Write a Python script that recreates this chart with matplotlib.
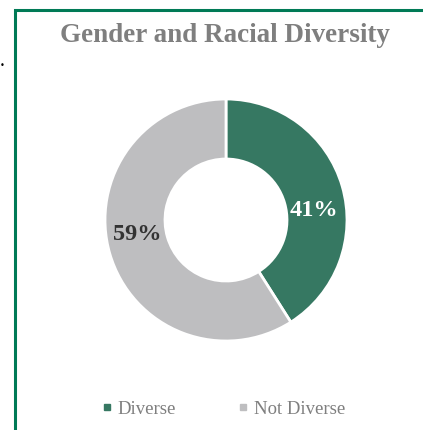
import matplotlib.pyplot as plt
from matplotlib.patches import Rectangle
from matplotlib.lines import Line2D

# data
labels = ["Diverse", "Not Diverse"]
values = [41, 59]
colors = ["#367862", "#BEBEC0"]
pct_colors = ["white", "#333333"]

SERIF = ["Liberation Serif", "DejaVu Serif"]

fig = plt.figure(figsize=(4.23, 4.30), dpi=100)

# green frame around the chart
fig.patches.append(Rectangle((14.5 / 423, -0.05), 1.0, 1 - 10.5 / 430 + 0.05,
                             transform=fig.transFigure, fill=False,
                             edgecolor="#007A56", linewidth=2.2))
fig.text(2.5 / 423, 1 - 66 / 430, "\u2022", fontsize=6, color="black",
         ha="center", va="center")

fig.text(225 / 423, 1 - 35 / 430, "Gender and Racial Diversity",
         fontsize=19.5, fontweight="bold", color="#7F7F7F",
         family=SERIF, ha="center", va="center")

# donut
ax = fig.add_axes([(226 - 125) / 423, 1 - (220 + 125) / 430, 250 / 423, 250 / 430])
wedges, _ = ax.pie(values, colors=colors, startangle=90, counterclock=False,
                   radius=121 / 125,
                   wedgeprops=dict(width=60 / 125, edgecolor="white", linewidth=2))
ax.set_xlim(-1, 1)
ax.set_ylim(-1, 1)
ax.set_aspect("equal")

pos = [(314, 211), (137, 234)]
for (px, py), v, c in zip(pos, values, pct_colors):
    fig.text(px / 423, 1 - py / 430, f"{v}%", fontsize=17.5, fontweight="bold",
             color=c, family=SERIF, ha="center", va="center")

# legend
handles = [Line2D([], [], marker="s", linestyle="", markersize=4,
                  markerfacecolor=c, markeredgecolor=c) for c in colors]
fig.legend(handles, labels, loc="center", bbox_to_anchor=(222 / 423, 1 - 409 / 430),
           ncol=2, frameon=False, handletextpad=0.15, columnspacing=3.22,
           handlelength=0.8,
           prop=dict(family=SERIF, size=13.5), labelcolor="#7F7F7F")

fig.savefig("out.png", dpi=100)
